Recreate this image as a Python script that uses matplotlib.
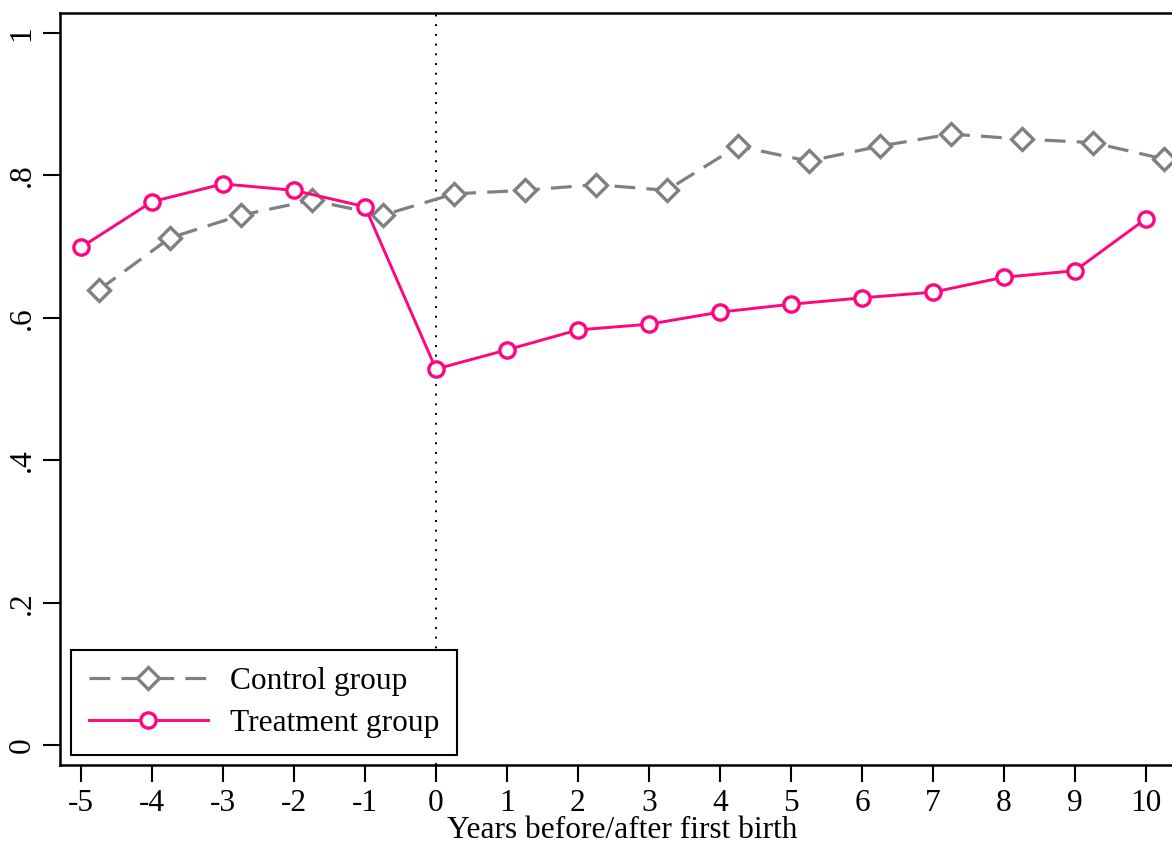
import matplotlib.pyplot as plt
import numpy as np

plt.rcParams['font.family'] = ['Liberation Serif', 'DejaVu Serif']

# years relative to first birth
years = np.arange(-5, 11)
# control group is plotted shifted a quarter year to the right
control_offset = 0.25

control = [0.639, 0.712, 0.744, 0.765, 0.744, 0.774, 0.779, 0.787,
           0.779, 0.841, 0.820, 0.841, 0.858, 0.851, 0.846, 0.823]
treatment = [0.699, 0.763, 0.788, 0.779, 0.756, 0.528, 0.555, 0.583,
             0.591, 0.608, 0.619, 0.628, 0.636, 0.657, 0.666, 0.739]

y_ticks = [0, 0.2, 0.4, 0.6, 0.8, 1]
y_tick_labels = ['0', '.2', '.4', '.6', '.8', '1']

gray = '#808080'
pink = '#ff0580'
font_size = 22.6

fig = plt.figure(figsize=(11.72, 8.46), dpi=100)
ax = fig.add_axes([60 / 1172, 1 - 765 / 846, 1125 / 1172, 752 / 846])

ax.axvline(0, color='black', linestyle=(0, (1, 4)), linewidth=1.4, zorder=1)

ax.plot(years + control_offset, control, color=gray, linewidth=2.3,
        dashes=(6.5, 3.5), marker='D', markersize=11, markerfacecolor='white',
        markeredgecolor=gray, markeredgewidth=2.4, label='Control group', zorder=2)
ax.plot(years, treatment, color=pink, linewidth=2.1,
        marker='o', markersize=11, markerfacecolor='white',
        markeredgecolor=pink, markeredgewidth=2.4, label='Treatment group', zorder=3)

ax.set_xlim(-5.296, 10.55)
ax.set_ylim(-0.028, 1.028)
ax.set_xticks(years)
ax.set_xticklabels([str(y) for y in years])
ax.set_yticks(y_ticks)
ax.set_yticklabels(y_tick_labels, rotation=90, va='center')

ax.tick_params(axis='both', direction='out', length=12, width=1.5,
               labelsize=font_size, pad=5)
for side in ['left', 'bottom', 'top', 'right']:
    ax.spines[side].set_linewidth(1.8)

ax.set_xlabel('Years before/after first birth', fontsize=font_size, labelpad=-1)

leg = ax.legend(loc='lower left', bbox_to_anchor=(0.010, 0.013), fontsize=font_size,
                frameon=True, fancybox=False, edgecolor='black', framealpha=1,
                handlelength=3.8, borderpad=0.55, labelspacing=0.42,
                handletextpad=0.72, borderaxespad=0)
leg.get_frame().set_linewidth(1.5)

fig.savefig('out.png', dpi=100)
